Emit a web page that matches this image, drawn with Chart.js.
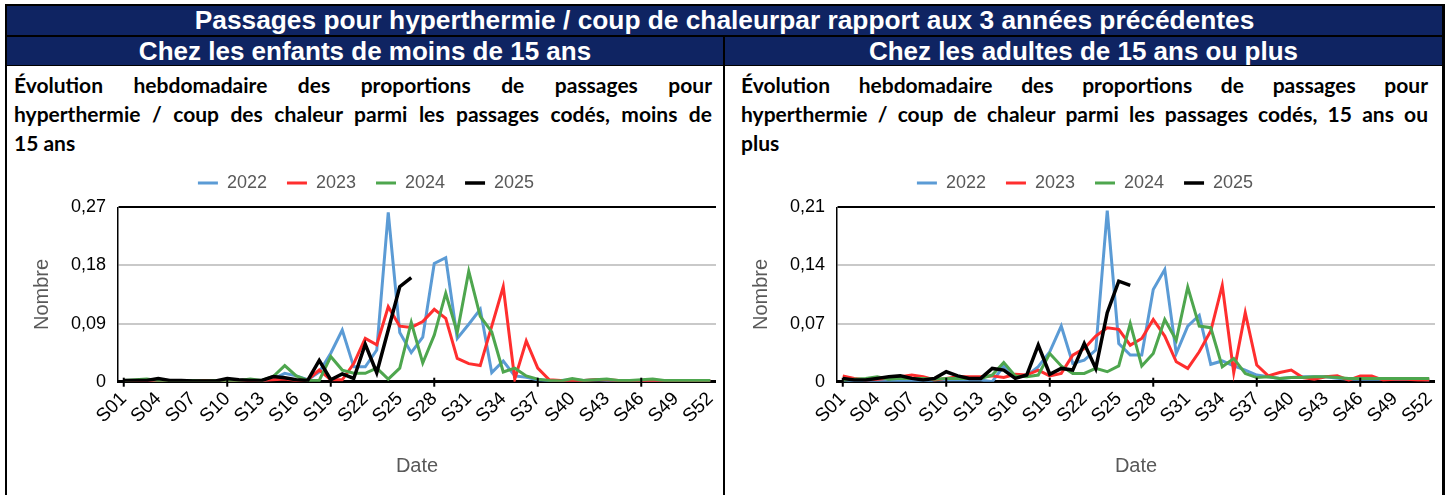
<!DOCTYPE html>
<html lang="fr">
<head>
<meta charset="utf-8">
<title>Passages pour hyperthermie / coup de chaleur</title>
<script src="https://cdn.jsdelivr.net/npm/chart.js@4.4.1/dist/chart.umd.min.js"></script>
<style>
  html, body { margin: 0; padding: 0; background: #fff; }
  body { width: 1448px; height: 495px; position: relative; overflow: hidden;
         font-family: "Liberation Sans", Arial, sans-serif; }
  .rule { position: absolute; background: #000; }
  .banner { position: absolute; background: #0f2462; color: #fff; font-weight: bold;
            text-align: center; white-space: nowrap; }
  .para { position: absolute; font-family: Lato, "Open Sans", sans-serif; font-weight: 700;
          font-size: 21px; line-height: 29px; color: #000; white-space: nowrap; }
  .para div.j { text-align: justify; text-align-last: justify; }
  canvas { position: absolute; }
</style>
</head>
<body>
  <!-- frame -->
  <div class="rule" style="left:5px;top:4px;width:1440px;height:2px"></div>
  <div class="rule" style="left:5px;top:4px;width:2px;height:491px"></div>
  <div class="rule" style="left:1442px;top:4px;width:3px;height:491px"></div>

  <div class="banner" style="left:7px;top:6px;width:1435px;height:29px;font-size:26.3px;line-height:29px">Passages pour hyperthermie / coup de chaleurpar rapport aux 3 années précédentes</div>
  <div class="rule" style="left:7px;top:35px;width:1435px;height:2px"></div>

  <div class="banner" style="left:7px;top:37px;width:716px;height:28px;font-size:26px;line-height:28px">Chez les enfants de moins de 15 ans</div>
  <div class="banner" style="left:725px;top:37px;width:717px;height:28px;font-size:26px;line-height:28px">Chez les adultes de 15 ans ou plus</div>
  <div class="rule" style="left:723px;top:37px;width:2px;height:458px"></div>
  <div class="rule" style="left:7px;top:65px;width:1435px;height:1px"></div>

  <div class="para" style="left:14px;top:70px;width:698px">
    <div class="j">Évolution hebdomadaire des proportions de passages pour</div>
    <div class="j">hyperthermie / coup des chaleur parmi les passages codés, moins de</div>
    <div>15 ans</div>
  </div>
  <div class="para" style="left:741px;top:70px;width:687px">
    <div class="j">Évolution hebdomadaire des proportions de passages pour</div>
    <div class="j">hyperthermie / coup de chaleur parmi les passages codés, 15 ans ou</div>
    <div>plus</div>
  </div>

  <canvas id="chartEnfants" width="709" height="345" style="left:7px;top:150px;width:709px;height:345px"></canvas>
  <canvas id="chartAdultes" width="709" height="345" style="left:726px;top:150px;width:709px;height:345px"></canvas>

<script>
// weekly labels S01 .. S52
const weeks = Array.from({ length: 52 }, (_, i) => 'S' + String(i + 1).padStart(2, '0'));
const years = ['2022', '2023', '2024', '2025'];
const colors = ['#5b9bd5', '#ff2e2e', '#4ea64e', '#000000'];

// under 15
const enfants2022 = [0.002, 0.001, 0.002, 0.001, 0.002, 0.001, 0.001, 0.002, 0.001, 0.002,
                     0.001, 0.002, 0.002, 0.004, 0.013, 0.009, 0.003, 0.015, 0.044, 0.080,
                     0.023, 0.023, 0.049, 0.262, 0.076, 0.045, 0.069, 0.183, 0.192, 0.067,
                     0.089, 0.112, 0.014, 0.032, 0.009, 0.007, 0.003, 0.002, 0.002, 0.003,
                     0.002, 0.003, 0.002, 0.002, 0.002, 0.002, 0.002, 0.002, 0.002, 0.001, 0.002, 0.001];
const enfants2023 = [0.002, 0.002, 0.001, 0.002, 0.002, 0.002, 0.001, 0.002, 0.002, 0.001,
                     0.002, 0.002, 0.002, 0.003, 0.004, 0.002, 0.003, 0.018, 0.003, 0.003,
                     0.028, 0.067, 0.057, 0.116, 0.086, 0.084, 0.093, 0.112, 0.098, 0.036,
                     0.028, 0.025, 0.086, 0.147, 0.004, 0.063, 0.021, 0.003, 0.002, 0.002,
                     0.002, 0.003, 0.003, 0.002, 0.002, 0.002, 0.002, 0.001, 0.002, 0.002, 0.002, 0.002];
const enfants2024 = [0.002, 0.003, 0.004, 0.002, 0.002, 0.002, 0.002, 0.001, 0.002, 0.002,
                     0.002, 0.004, 0.002, 0.008, 0.025, 0.009, 0.002, 0.002, 0.039, 0.018,
                     0.013, 0.013, 0.021, 0.004, 0.021, 0.092, 0.029, 0.072, 0.137, 0.076,
                     0.171, 0.101, 0.077, 0.015, 0.021, 0.009, 0.004, 0.002, 0.001, 0.005,
                     0.002, 0.003, 0.004, 0.002, 0.002, 0.003, 0.004, 0.002, 0.002, 0.002, 0.002, 0.002];
const enfants2025 = [0.002, 0.002, 0.002, 0.005, 0.002, 0.002, 0.001, 0.001, 0.001, 0.005,
                     0.003, 0.002, 0.002, 0.008, 0.006, 0.003, 0.002, 0.033, 0.003, 0.012,
                     0.005, 0.058, 0.014, 0.080, 0.147, 0.161];

// 15 and over
const adultes2022 = [0.002, 0.001, 0.000, 0.001, 0.000, 0.001, 0.001, 0.000, 0.002, 0.002,
                     0.002, 0.002, 0.002, 0.000, 0.019, 0.006, 0.007, 0.018, 0.036, 0.067,
                     0.022, 0.026, 0.038, 0.206, 0.046, 0.032, 0.032, 0.111, 0.135, 0.034,
                     0.067, 0.080, 0.021, 0.025, 0.019, 0.014, 0.008, 0.006, 0.004, 0.005,
                     0.006, 0.006, 0.006, 0.004, 0.003, 0.003, 0.003, 0.003, 0.003, 0.003, 0.003, 0.002];
const adultes2023 = [0.007, 0.004, 0.002, 0.003, 0.004, 0.006, 0.008, 0.006, 0.002, 0.004,
                     0.006, 0.006, 0.006, 0.007, 0.005, 0.009, 0.008, 0.014, 0.007, 0.010,
                     0.032, 0.040, 0.055, 0.065, 0.063, 0.044, 0.052, 0.075, 0.055, 0.024,
                     0.016, 0.036, 0.061, 0.116, 0.011, 0.083, 0.020, 0.007, 0.011, 0.014,
                     0.005, 0.003, 0.006, 0.007, 0.002, 0.007, 0.007, 0.002, 0.003, 0.003, 0.002, 0.002];
const adultes2024 = [0.002, 0.003, 0.004, 0.006, 0.003, 0.004, 0.004, 0.004, 0.003, 0.004,
                     0.004, 0.004, 0.004, 0.008, 0.023, 0.007, 0.006, 0.008, 0.034, 0.019,
                     0.010, 0.010, 0.016, 0.012, 0.019, 0.070, 0.019, 0.034, 0.075, 0.050,
                     0.114, 0.067, 0.065, 0.018, 0.028, 0.010, 0.005, 0.006, 0.004, 0.005,
                     0.005, 0.006, 0.006, 0.005, 0.004, 0.004, 0.004, 0.004, 0.004, 0.004, 0.004, 0.004];
const adultes2025 = [0.004, 0.002, 0.002, 0.004, 0.006, 0.007, 0.004, 0.002, 0.004, 0.012,
                     0.007, 0.004, 0.004, 0.016, 0.014, 0.004, 0.008, 0.044, 0.009, 0.016,
                     0.014, 0.046, 0.016, 0.083, 0.121, 0.116];

const yTicksEnfants = [0, 0.09, 0.18, 0.27];
const yTicksAdultes = [0, 0.07, 0.14, 0.21];

Chart.defaults.font.family = '"Liberation Sans", Arial, sans-serif';
Chart.defaults.animation = false;

// fixed legend height so both plot areas line up
const legendHeight = {
    id: 'legendHeight',
    beforeInit(chart) {
        const fit = chart.legend.fit;
        chart.legend.fit = function () {
            fit.bind(chart.legend)();
            this.height = 53.3;
        };
    }
};

// tick marks every 3 weeks, crossing the x axis line
const crossTicks = {
    id: 'crossTicks',
    afterDraw(chart) {
        const x = chart.scales.x;
        const y0 = chart.chartArea.bottom;
        const ctx = chart.ctx;
        ctx.save();
        ctx.strokeStyle = '#000';
        ctx.lineWidth = 2;
        x.ticks.forEach((t, i) => {
            if (i % 3 !== 0) return;
            const px = x.getPixelForTick(i);
            ctx.beginPath();
            ctx.moveTo(px, y0 - 4);
            ctx.lineTo(px, y0 + 5);
            ctx.stroke();
        });
        ctx.restore();
    }
};

const buildChart = (id, series, yTicks) => {
    const yMax = yTicks[yTicks.length - 1];
    const datasets = series.map((data, i) => ({
        label: years[i],
        data: data,
        borderColor: colors[i],
        backgroundColor: colors[i],
        borderWidth: i === 3 ? 3.5 : 3,
        pointRadius: 0,
        tension: 0,
        fill: false,
        order: 4 - i
    }));

    return new Chart(document.getElementById(id), {
        type: 'line',
        data: { labels: weeks, datasets: datasets },
        options: {
            responsive: false,
            layout: { padding: { top: 4, left: 9, right: 0, bottom: 0 } },
            plugins: {
                legend: {
                    position: 'top',
                    labels: {
                        usePointStyle: true,
                        pointStyle: 'line',
                        pointStyleWidth: 20,
                        padding: 20,
                        color: '#595959',
                        font: { size: 18 },
                        sort: (a, b) => a.datasetIndex - b.datasetIndex
                    }
                },
                tooltip: { enabled: false }
            },
            scales: {
                x: {
                    offset: true,
                    grid: { display: false, drawTicks: false },
                    border: { display: true, color: '#000', width: 3 },
                    ticks: {
                        autoSkip: false,
                        minRotation: 45,
                        maxRotation: 45,
                        padding: 6,
                        color: '#000',
                        font: { size: 19 },
                        callback: (v, i) => (i % 3 === 0 ? weeks[i] : null)
                    },
                    title: {
                        display: true,
                        text: 'Date',
                        color: '#595959',
                        font: { size: 20 },
                        padding: { top: 4, bottom: 17 }
                    },
                    afterFit: (s) => {
                        s.height = 113.3;
                        s.paddingLeft = 0;
                        s.paddingRight = 0;
                    }
                },
                y: {
                    min: 0,
                    max: yMax,
                    afterBuildTicks: (s) => {
                        s.ticks = yTicks.map((v) => ({ value: v }));
                    },
                    grid: {
                        color: (c) => (c.tick && (c.tick.value === yMax || c.tick.value === 0) ? '#000' : '#c9c9c9'),
                        lineWidth: 2,
                        drawTicks: false
                    },
                    border: { display: true, color: '#000', width: 1.5 },
                    ticks: {
                        padding: 12,
                        color: '#000',
                        font: { size: 18 },
                        callback: (v) => (v === 0 ? '0' : v.toFixed(2).replace('.', ','))
                    },
                    title: {
                        display: true,
                        text: 'Nombre',
                        color: '#595959',
                        font: { size: 20 },
                        padding: { top: 14, bottom: 0 }
                    },
                    afterFit: (s) => {
                        s.width = 102;
                        s.paddingTop = 0;
                        s.paddingBottom = 0;
                    }
                }
            }
        },
        plugins: [legendHeight, crossTicks]
    });
};

buildChart('chartEnfants', [enfants2022, enfants2023, enfants2024, enfants2025], yTicksEnfants);
buildChart('chartAdultes', [adultes2022, adultes2023, adultes2024, adultes2025], yTicksAdultes);
</script>
</body>
</html>
